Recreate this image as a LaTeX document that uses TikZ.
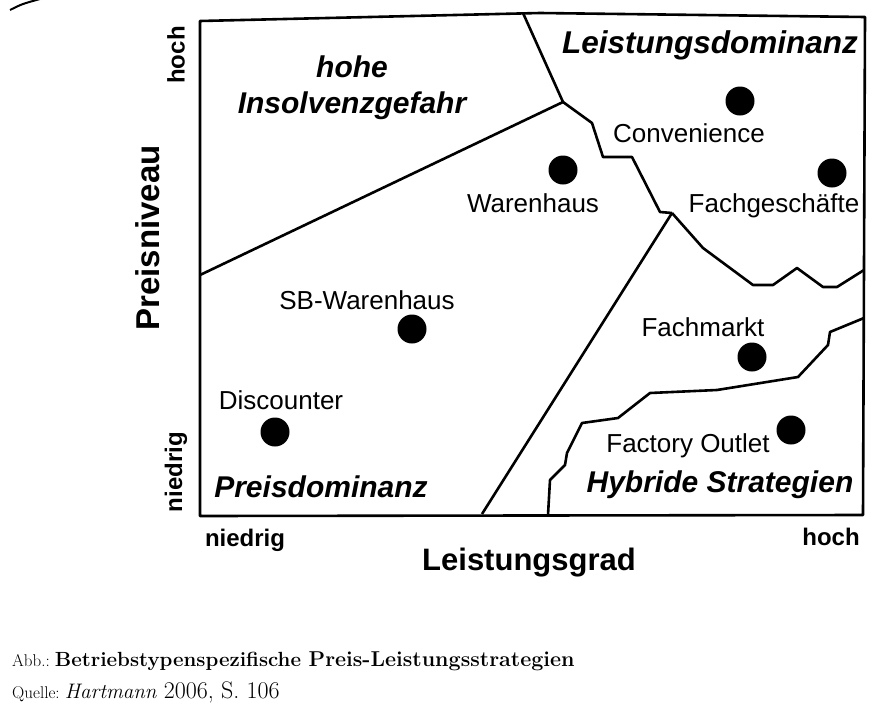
\documentclass[tikz,border=0pt]{standalone}
\usepackage{fontspec}
\newfontfamily\diafont{Liberation Sans}
\usetikzlibrary{positioning}

\begin{document}
\begin{tikzpicture}[x=1pt,y=-1pt,
  lbl/.style={font=\diafont\fontsize{26}{30}\selectfont,inner sep=0pt},
  reg/.style={font=\diafont\bfseries\itshape\fontsize{30}{36}\selectfont,inner sep=0pt,align=center},
  ax/.style={font=\diafont\bfseries\fontsize{24}{28}\selectfont,inner sep=0pt},
  dot/.style={circle,fill=black,minimum size=29pt,inner sep=0pt},
  rand/.style={line width=2.6pt,line join=round}]
  \useasboundingbox (0,0) rectangle (884,718);
  \draw[line width=2pt] (10,10) .. controls (22,4) .. (40,-1);
  % Feld
  \draw[rand] (200,21) -- (540,13) -- (865,17) -- (863,515) -- (200,516) -- cycle;
  \coordinate (j1) at (563,102);
  \coordinate (j2) at (672,213);
  \draw[rand] (200,275) -- (j1) -- (523,13);
  \draw[rand] (j1) -- (592,123) -- (603,157) -- (632,157) -- (660,212) -- (j2);
  \draw[rand] (j2) -- (703,248) -- (753,285) -- (773,285) -- (797,268)
    -- (823,287) -- (837,287) -- (864,270);
  \draw[rand] (j2) -- (482,514);
  \draw[rand] (864,318) -- (830,332) -- (828,345) -- (798,377) -- (717,390)
    -- (650,393) -- (618,418) -- (582,423) -- (567,453) -- (565,465)
    -- (550,480) -- (548,515);
  % Betriebstypen
  \node[dot] (con) at (740,101) {};
  \node[dot] (fg) at (832,173) {};
  \node[dot] (wh) at (563,170) {};
  \node[dot] (sb) at (412,329) {};
  \node[dot] (dis) at (275,432) {};
  \node[dot] (fm) at (752,357) {};
  \node[dot] (fo) at (791,430) {};
  \node[lbl] (conl) at (689,133) {Convenience};
  \node[lbl] (fgl) at (774,206) {Fachgeschäfte};
  \node[lbl] (whl) at (533,203) {Warenhaus};
  \node[lbl] (sbl) at (367,300) {SB-Warenhaus};
  \node[lbl] (disl) at (281,400) {Discounter};
  \node[lbl] (fml) at (703,327) {Fachmarkt};
  \node[lbl] (fol) at (688,446) {Factory Outlet};
  % Felder
  \node[reg] (ins) at (352,88) {hohe\\Insolvenzgefahr};
  \node[reg,font=\diafont\bfseries\itshape\fontsize{31.5}{36}\selectfont] (ld) at (710,45) {Leistungsdominanz};
  \node[reg] (pd) at (321,487) {Preisdominanz};
  \node[reg] (hs) at (720,485) {Hybride Strategien};
  % Achsen
  \node[ax,rotate=90] (yhi) at (176,55) {hoch};
  \node[ax,rotate=90] (ylo) at (176,472) {niedrig};
  \node[ax,rotate=90,font=\diafont\bfseries\fontsize{33}{36}\selectfont] (ytit) at (148,238) {Preisniveau};
  \node[ax] (xlo) at (245,540) {niedrig};
  \node[ax] (xhi) at (831,537) {hoch};
  \node[ax,font=\diafont\bfseries\fontsize{31}{36}\selectfont] (xtit) at (529,563) {Leistungsgrad};
  % Quelle
  \node[anchor=west,inner sep=0pt] (cap) at (12,661)
    {{\fontsize{17}{20}\selectfont Abb.:\ }{\bfseries\fontsize{20.5}{24}\selectfont Betriebstypenspezifische\ }{\bfseries\fontsize{21.5}{26}\selectfont Preis-Leistungsstrategien}};
  \node[anchor=west,inner sep=0pt] (src) at (12,692)
    {{\fontsize{17}{20}\selectfont Quelle:\ }{\fontsize{21}{26}\selectfont\itshape Hartmann\ }{\fontsize{24}{28}\selectfont 2006, S. 106}};
\end{tikzpicture}
\end{document}
